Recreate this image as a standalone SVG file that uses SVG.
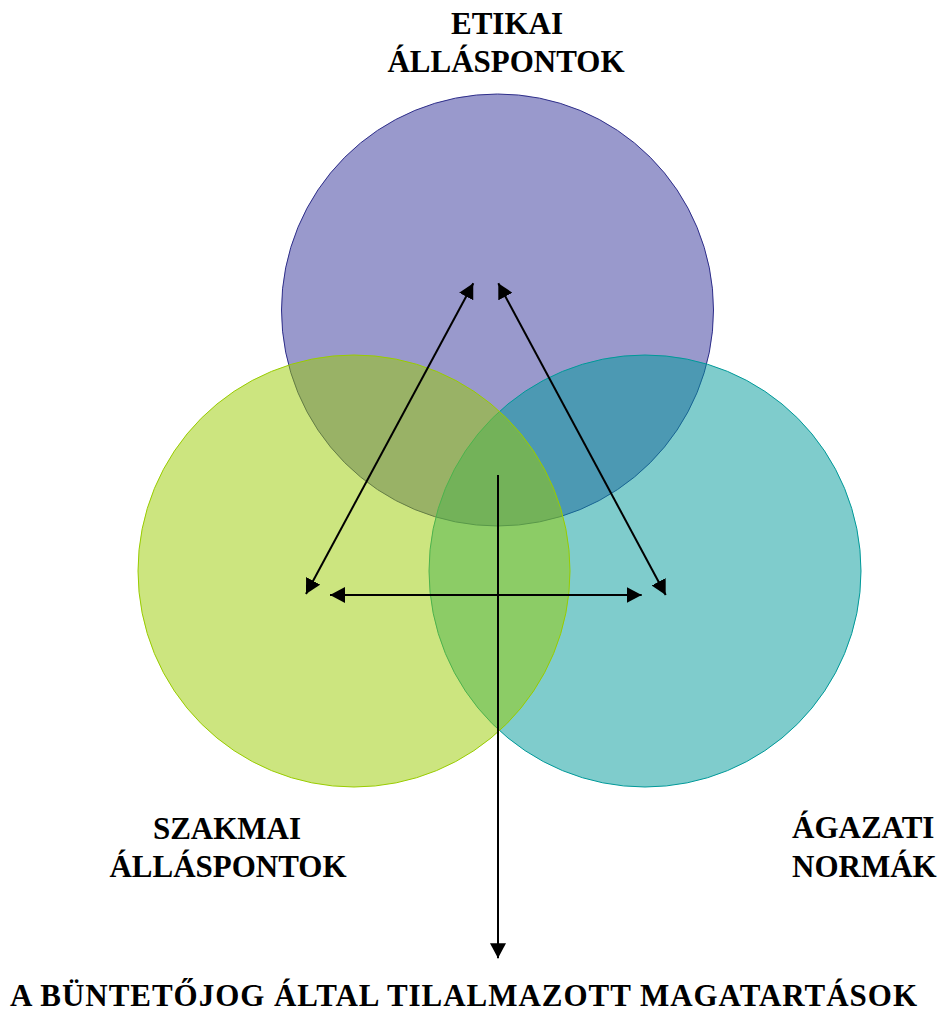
<svg xmlns="http://www.w3.org/2000/svg" width="944" height="1013" viewBox="0 0 944 1013">
<style>
.lbl{font-family:"Liberation Serif","Times New Roman",serif;font-weight:bold;font-size:31px;fill:#000}
.conn{stroke:#000;stroke-width:2;fill:none}
</style>
<defs>
<marker id="ah" markerUnits="userSpaceOnUse" markerWidth="16" markerHeight="16" refX="15" refY="8" orient="auto-start-reverse" viewBox="0 0 16 16">
<path d="M0,0 L15,8 L0,16 z" fill="#000"/>
</marker>
</defs>
<rect width="944" height="1013" fill="#fff"/>
<g id="node-etikai">
<circle cx="497.5" cy="310" r="216" fill="#333399" fill-opacity="0.5" stroke="#2E2E8A" stroke-width="1"/>
<text class="lbl" x="507" y="34" text-anchor="middle">ETIKAI</text>
<text class="lbl" x="506" y="72" text-anchor="middle">ÁLLÁSPONTOK</text>
</g>
<g id="node-agazati">
<circle cx="645" cy="571" r="216" fill="#009999" fill-opacity="0.5" stroke="#009999" stroke-width="1"/>
<text class="lbl" x="792" y="838">ÁGAZATI</text>
<text class="lbl" x="792" y="877">NORMÁK</text>
</g>
<g id="node-szakmai">
<circle cx="354" cy="571" r="216" fill="#99CC00" fill-opacity="0.5" stroke="#99CC00" stroke-width="1"/>
<text class="lbl" x="227" y="839" text-anchor="middle">SZAKMAI</text>
<text class="lbl" x="228" y="877" text-anchor="middle">ÁLLÁSPONTOK</text>
</g>
<g id="node-buntetojog">
<text class="lbl" x="10" y="1006" textLength="907" lengthAdjust="spacing">A BÜNTETŐJOG ÁLTAL TILALMAZOTT MAGATARTÁSOK</text>
</g>
<g id="connectors">
<line class="conn" x1="306" y1="594" x2="473.3" y2="283.3" marker-start="url(#ah)" marker-end="url(#ah)"/>
<line class="conn" x1="498.3" y1="283.3" x2="665.7" y2="595" marker-start="url(#ah)" marker-end="url(#ah)"/>
<line class="conn" x1="330" y1="595" x2="641.7" y2="595" marker-start="url(#ah)" marker-end="url(#ah)"/>
<line class="conn" x1="498" y1="475" x2="498" y2="958.3" marker-end="url(#ah)"/>
</g>
</svg>
